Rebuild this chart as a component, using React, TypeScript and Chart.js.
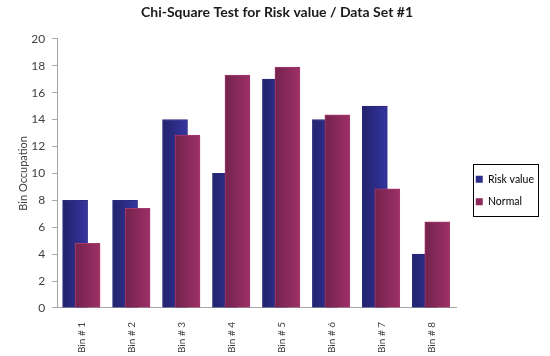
import React, { useEffect, useRef } from "react";
import { Chart, registerables } from "chart.js";

Chart.register(...registerables);

const categories = ["Bin # 1", "Bin # 2", "Bin # 3", "Bin # 4", "Bin # 5", "Bin # 6", "Bin # 7", "Bin # 8"];
const riskValues = [8, 8, 14, 10, 17, 14, 15, 4];
const normalValues = [4.8, 7.4, 12.85, 17.3, 17.9, 14.35, 8.85, 6.4];
const seriesNames = ["Risk value", "Normal"];
const yMax = 20;
const yStep = 2;

const RISK_OFFSET = -0.14;
const NORMAL_OFFSET = 0.11;
const BAR_W = 25;
const LEGEND_SHIFT_X = 7;
const LEGEND_SHIFT_Y = 11;

function gradientFill(dark: string, light: string, fallback: string) {
  return (ctx: any) => {
    const chart = ctx.chart;
    const xs = chart.scales?.x;
    const raw = ctx.raw;
    if (!xs || !raw || !chart.chartArea) return fallback;
    const px = xs.getPixelForValue(raw.x);
    if (!isFinite(px)) return fallback;
    const g = chart.ctx.createLinearGradient(px - BAR_W / 2, 0, px + BAR_W / 2, 0);
    g.addColorStop(0, dark);
    g.addColorStop(1, light);
    return g;
  };
}

const legendTweak = {
  id: "legendTweak",
  afterLayout(chart: any) {
    const lg = chart.legend;
    if (!lg) return;
    lg.left += LEGEND_SHIFT_X;
    lg.right += LEGEND_SHIFT_X;
    lg.top += LEGEND_SHIFT_Y;
    lg.bottom += LEGEND_SHIFT_Y;
  },
  afterDraw(chart: any) {
    const lg = chart.legend;
    if (!lg || !lg.legendHitBoxes || !lg.legendHitBoxes.length) return;
    const boxes = lg.legendHitBoxes;
    let l = Infinity, r = -Infinity, t = Infinity, b = -Infinity;
    for (const h of boxes) {
      l = Math.min(l, h.left);
      r = Math.max(r, h.left + h.width);
      t = Math.min(t, h.top);
      b = Math.max(b, h.top + h.height);
    }
    const c = chart.ctx;
    c.save();
    c.strokeStyle = "#000000";
    c.lineWidth = 1;
    const x0 = Math.round(l - 3);
    const x1 = Math.round(r + 4);
    c.strokeRect(x0 + 0.5, Math.round(t - 10) + 0.5, x1 - x0, Math.round(b - t + 19));
    c.restore();
  },
};

export default function App() {
  const ref = useRef<HTMLCanvasElement | null>(null);
  useEffect(() => {
    if (!ref.current) return;
    const font = "Lato, 'Noto Sans', sans-serif";
    const chart = new Chart(ref.current, {
      type: "bar",
      data: {
        datasets: [
          {
            label: seriesNames[0],
            data: riskValues.map((v, i) => ({ x: i + 1 + RISK_OFFSET, y: v })),
            backgroundColor: gradientFill("#22226c", "#3535a0", "#2c2c85"),
            borderColor: "#2a2a80",
            borderWidth: 1,
            barThickness: BAR_W,
            grouped: false,
            order: 2,
          } as any,
          {
            label: seriesNames[1],
            data: normalValues.map((v, i) => ({ x: i + 1 + NORMAL_OFFSET, y: v })),
            backgroundColor: gradientFill("#73234d", "#9d3066", "#882a5a"),
            borderColor: "#a23a6c",
            borderWidth: 1,
            barThickness: BAR_W,
            grouped: false,
            order: 1,
          } as any,
        ],
      },
      options: {
        animation: false,
        responsive: true,
        maintainAspectRatio: false,
        layout: { padding: { left: 17, right: 13, top: 0, bottom: -3 } },
        plugins: {
          title: {
            display: true,
            text: "Chi-Square Test for Risk value / Data Set #1",
            color: "#1a1a1a",
            font: { family: font, size: 14, weight: "bold" },
            padding: { top: 4, bottom: 18 },
          },
          legend: {
            position: "right",
            labels: {
              color: "#1a1a1a",
              font: { family: font, size: 10.5 },
              boxWidth: 7,
              boxHeight: 7,
              padding: 12,
              generateLabels: (chart: any) =>
                chart.data.datasets.map((ds: any, i: number) => ({
                  text: ds.label,
                  fillStyle: i === 0 ? "#2e2e8c" : "#8c2a5c",
                  strokeStyle: i === 0 ? "#2e2e8c" : "#8c2a5c",
                  lineWidth: 0,
                  datasetIndex: i,
                  hidden: false,
                })),
            },
          },
          tooltip: { enabled: false },
        },
        scales: {
          x: {
            type: "linear",
            min: 0.5,
            max: 8.5,
            offset: false,
            afterBuildTicks: (axis: any) => {
              axis.ticks = categories.map((_, i) => ({ value: i + 1 }));
            },
            ticks: {
              autoSkip: false,
              minRotation: 90,
              maxRotation: 90,
              padding: 6,
              color: "#404040",
              font: { family: font, size: 10 },
              callback: (v: any) => categories[Math.round(v) - 1] ?? "",
            },
            grid: { display: false },
            border: { display: true, color: "#a6a6a6", width: 1 },
          },
          y: {
            min: 0,
            max: yMax,
            ticks: {
              stepSize: yStep,
              padding: 7,
              color: "#404040",
              font: { family: font, size: 12 },
            },
            grid: { display: true, drawOnChartArea: false, drawTicks: true, tickLength: 5, color: "#a6a6a6" },
            border: { display: true, color: "#a6a6a6", width: 1 },
            title: {
              display: true,
              text: "Bin Occupation",
              color: "#404040",
              font: { family: font, size: 11 },
              padding: { top: 0, bottom: -6 },
            },
          },
        },
      } as any,
      plugins: [legendTweak],
    });
    return () => chart.destroy();
  }, []);
  return (
    <div style={{ position: "fixed", left: 0, top: 0, width: 550, height: 356, background: "#fff" }}>
      <canvas ref={ref} />
    </div>
  );
}
